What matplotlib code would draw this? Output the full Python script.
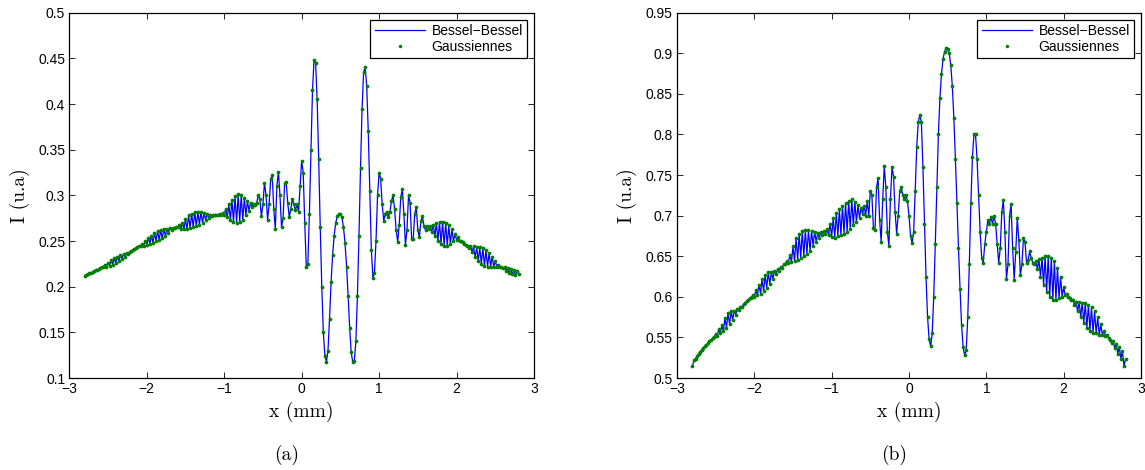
#!/usr/bin/env python3
"""Two panels of intensity profiles I(x): Bessel-Bessel (line) vs the
Gaussian decomposition (dots), cases (a) and (b). Saves out.png."""

import numpy as np
import matplotlib

matplotlib.use("Agg")
import matplotlib.pyplot as plt
from matplotlib.ticker import FixedLocator, FuncFormatter

# Sample grid: x from -2.8 mm to 2.8 mm, step 0.02 mm (281 samples).
X_START, X_STOP, N_SAMPLES = -2.8, 2.8, 281

# Panel (a): intensity, one row per 0.2 mm.
I_A = [
    0.212, 0.213, 0.214, 0.215, 0.215, 0.216, 0.217, 0.218, 0.218, 0.219,  # -2.80
    0.220, 0.222, 0.221, 0.224, 0.222, 0.226, 0.223, 0.229, 0.224, 0.231,  # -2.60
    0.226, 0.233, 0.228, 0.235, 0.230, 0.236, 0.233, 0.237, 0.236, 0.238,  # -2.40
    0.239, 0.240, 0.241, 0.242, 0.243, 0.244, 0.244, 0.247, 0.245, 0.250,  # -2.20
    0.246, 0.253, 0.247, 0.256, 0.248, 0.259, 0.250, 0.261, 0.251, 0.262,  # -2.00
    0.253, 0.263, 0.256, 0.263, 0.259, 0.264, 0.262, 0.264, 0.264, 0.265,  # -1.80
    0.265, 0.267, 0.263, 0.270, 0.263, 0.274, 0.263, 0.278, 0.264, 0.280,  # -1.60
    0.265, 0.282, 0.266, 0.282, 0.268, 0.282, 0.270, 0.281, 0.273, 0.280,  # -1.40
    0.275, 0.279, 0.277, 0.279, 0.278, 0.279, 0.278, 0.280, 0.278, 0.281,  # -1.20
    0.279, 0.285, 0.276, 0.290, 0.273, 0.295, 0.271, 0.299, 0.270, 0.301,  # -1.00
    0.271, 0.300, 0.273, 0.297, 0.278, 0.294, 0.283, 0.292, 0.287, 0.291,  # -0.80
    0.289, 0.292, 0.300, 0.296, 0.277, 0.290, 0.314, 0.300, 0.273, 0.290,  # -0.60
    0.318, 0.322, 0.285, 0.263, 0.310, 0.326, 0.300, 0.265, 0.275, 0.313,  # -0.40
    0.315, 0.292, 0.276, 0.285, 0.296, 0.290, 0.284, 0.290, 0.282, 0.310,  # -0.20
    0.338, 0.325, 0.270, 0.222, 0.225, 0.280, 0.350, 0.415, 0.448, 0.445,  # 0.00
    0.405, 0.340, 0.265, 0.200, 0.150, 0.124, 0.118, 0.130, 0.165, 0.205,  # 0.20
    0.235, 0.256, 0.270, 0.277, 0.280, 0.280, 0.276, 0.265, 0.248, 0.222,  # 0.40
    0.190, 0.155, 0.128, 0.117, 0.119, 0.140, 0.190, 0.255, 0.330, 0.395,  # 0.60
    0.435, 0.440, 0.420, 0.370, 0.305, 0.240, 0.210, 0.215, 0.250, 0.300,  # 0.80
    0.325, 0.318, 0.290, 0.272, 0.280, 0.282, 0.276, 0.282, 0.294, 0.300,  # 1.00
    0.285, 0.262, 0.249, 0.268, 0.298, 0.307, 0.280, 0.246, 0.262, 0.300,  # 1.20
    0.292, 0.252, 0.252, 0.280, 0.287, 0.262, 0.254, 0.272, 0.277, 0.266,  # 1.40
    0.262, 0.266, 0.263, 0.266, 0.260, 0.268, 0.255, 0.270, 0.250, 0.271,  # 1.60
    0.247, 0.271, 0.245, 0.270, 0.245, 0.267, 0.247, 0.263, 0.250, 0.258,  # 1.80
    0.251, 0.254, 0.250, 0.250, 0.249, 0.247, 0.246, 0.245, 0.242, 0.245,  # 2.00
    0.238, 0.244, 0.232, 0.243, 0.228, 0.243, 0.225, 0.242, 0.223, 0.240,  # 2.20
    0.222, 0.237, 0.222, 0.233, 0.222, 0.228, 0.222, 0.224, 0.221, 0.222,  # 2.40
    0.220, 0.221, 0.217, 0.220, 0.215, 0.219, 0.214, 0.218, 0.213, 0.217, 0.214,  # 2.60
]

# Panel (b)
I_B = [
    0.515, 0.522, 0.524, 0.527, 0.530, 0.532, 0.535, 0.537, 0.539, 0.541,  # -2.80
    0.543, 0.545, 0.547, 0.549, 0.550, 0.554, 0.552, 0.560, 0.555, 0.565,  # -2.60
    0.558, 0.574, 0.562, 0.580, 0.566, 0.582, 0.572, 0.583, 0.578, 0.585,  # -2.40
    0.584, 0.588, 0.588, 0.591, 0.592, 0.595, 0.596, 0.598, 0.599, 0.602,  # -2.20
    0.600, 0.608, 0.602, 0.615, 0.604, 0.622, 0.607, 0.627, 0.611, 0.630,  # -2.00
    0.616, 0.630, 0.622, 0.632, 0.628, 0.634, 0.632, 0.637, 0.636, 0.640,  # -1.80
    0.640, 0.644, 0.642, 0.652, 0.643, 0.662, 0.644, 0.672, 0.645, 0.678,  # -1.60
    0.648, 0.681, 0.650, 0.682, 0.653, 0.682, 0.657, 0.681, 0.663, 0.680,  # -1.40
    0.668, 0.679, 0.673, 0.680, 0.676, 0.681, 0.678, 0.683, 0.676, 0.690,  # -1.20
    0.674, 0.697, 0.673, 0.703, 0.675, 0.708, 0.676, 0.712, 0.678, 0.715,  # -1.00
    0.680, 0.718, 0.684, 0.720, 0.688, 0.717, 0.692, 0.713, 0.697, 0.710,  # -0.80
    0.702, 0.712, 0.700, 0.718, 0.700, 0.730, 0.725, 0.685, 0.682, 0.735,  # -0.60
    0.746, 0.695, 0.668, 0.720, 0.761, 0.735, 0.680, 0.663, 0.720, 0.760,  # -0.40
    0.748, 0.705, 0.678, 0.700, 0.730, 0.735, 0.725, 0.720, 0.726, 0.718,  # -0.20
    0.700, 0.675, 0.666, 0.680, 0.730, 0.785, 0.815, 0.824, 0.815, 0.760,  # 0.00
    0.690, 0.625, 0.575, 0.548, 0.539, 0.555, 0.600, 0.665, 0.735, 0.800,  # 0.20
    0.845, 0.875, 0.893, 0.902, 0.906, 0.905, 0.900, 0.885, 0.860, 0.820,  # 0.40
    0.770, 0.715, 0.660, 0.610, 0.565, 0.538, 0.528, 0.535, 0.575, 0.640,  # 0.60
    0.715, 0.772, 0.800, 0.800, 0.770, 0.725, 0.680, 0.648, 0.642, 0.665,  # 0.80
    0.680, 0.695, 0.690, 0.698, 0.690, 0.700, 0.690, 0.665, 0.642, 0.660,  # 1.00
    0.705, 0.719, 0.680, 0.622, 0.640, 0.700, 0.714, 0.660, 0.621, 0.655,  # 1.20
    0.697, 0.670, 0.627, 0.640, 0.672, 0.668, 0.642, 0.645, 0.656, 0.648,  # 1.40
    0.642, 0.640, 0.644, 0.634, 0.646, 0.625, 0.648, 0.615, 0.650, 0.606,  # 1.60
    0.650, 0.600, 0.648, 0.596, 0.644, 0.596, 0.636, 0.598, 0.625, 0.600,  # 1.80
    0.612, 0.602, 0.604, 0.600, 0.598, 0.596, 0.596, 0.590, 0.594, 0.582,  # 2.00
    0.594, 0.575, 0.593, 0.568, 0.592, 0.562, 0.590, 0.558, 0.587, 0.556,  # 2.20
    0.582, 0.555, 0.575, 0.553, 0.566, 0.553, 0.558, 0.552, 0.553, 0.549,  # 2.40
    0.547, 0.543, 0.545, 0.537, 0.542, 0.530, 0.538, 0.524, 0.533, 0.515, 0.523,  # 2.60
]

X_TICKS = [-3, -2, -1, 0, 1, 2, 3]
Y_TICKS_A = [0.1, 0.15, 0.2, 0.25, 0.3, 0.35, 0.4, 0.45, 0.5]
Y_TICKS_B = [0.5, 0.55, 0.6, 0.65, 0.7, 0.75, 0.8, 0.85, 0.9, 0.95]
LABELS = ["Bessel\u2212Bessel", "Gaussiennes"]
CAPTIONS = ["(a)", "(b)"]

W, H = 1145, 470
# axes boxes in figure pixels: (left, right), shared top/bottom
AX_X = [(69.3, 534.0), (677.0, 1141.0)]
AX_TOP, AX_BOTTOM = 12.7, 378.0
CAPTION_X = [287, 894]
CAPTION_Y = 455

LINE_COLOR = (0.0, 0.0, 1.0)
DOT_COLOR = (0.0, 0.5, 0.0)
SERIF = ["cmr10", "DejaVu Serif"]

plt.rcParams["font.family"] = ["Liberation Sans", "DejaVu Sans"]
plt.rcParams["axes.unicode_minus"] = True


def _tick_fmt(v, _pos):
    return f"{v:g}".replace("-", "\u2212")


def draw_panel(fig, idx, y_vals, y_ticks):
    left, right = AX_X[idx]
    ax = fig.add_axes([
        left / W, 1 - AX_BOTTOM / H,
        (right - left) / W, (AX_BOTTOM - AX_TOP) / H,
    ])
    x = np.linspace(X_START, X_STOP, N_SAMPLES)
    y = np.asarray(y_vals)
    assert len(y) == N_SAMPLES, len(y)

    ax.plot(x, y, "-", color=LINE_COLOR, lw=0.9, label=LABELS[0])
    ax.plot(x, y, "o", color=DOT_COLOR, ms=2.7, mew=0, ls="none", label=LABELS[1])

    ax.set_xlim(X_TICKS[0], X_TICKS[-1])
    ax.set_ylim(y_ticks[0], y_ticks[-1])
    ax.xaxis.set_major_locator(FixedLocator(X_TICKS))
    ax.yaxis.set_major_locator(FixedLocator(y_ticks))
    ax.xaxis.set_major_formatter(FuncFormatter(_tick_fmt))
    ax.yaxis.set_major_formatter(FuncFormatter(_tick_fmt))
    ax.tick_params(direction="in", top=True, right=True, length=4, width=0.6,
                   labelsize=10, pad=3, colors="black")
    for sp in ax.spines.values():
        sp.set_linewidth(0.9)

    ax.set_xlabel("x (mm)", family=SERIF, fontsize=14, va="center")
    ax.xaxis.set_label_coords(0.5, -0.093)
    ax.set_ylabel("I (u.a)", family=SERIF, fontsize=14, va="center")
    ax.yaxis.set_label_coords(-0.107, 0.5)

    ax_w = right - left
    ax_h = AX_BOTTOM - AX_TOP
    leg = ax.legend(
        loc="upper right", bbox_to_anchor=(1 - 7 / ax_w, 1 - 7 / ax_h),
        borderaxespad=0, fontsize=10, frameon=True, fancybox=False,
        edgecolor="black", framealpha=1, handlelength=3.6, handletextpad=0.5,
        borderpad=0.3, labelspacing=0.15, numpoints=1,
    )
    leg.get_frame().set_linewidth(0.9)
    for h in leg.legend_handles:
        if h.get_marker() == "o":
            h.set_markersize(2.5)

    fig.text(CAPTION_X[idx] / W, 1 - CAPTION_Y / H, CAPTIONS[idx],
             family=SERIF, fontsize=14, ha="center", va="center")
    return ax


def main():
    fig = plt.figure(figsize=(W / 100, H / 100), dpi=100)
    draw_panel(fig, 0, I_A, Y_TICKS_A)
    draw_panel(fig, 1, I_B, Y_TICKS_B)
    fig.savefig("out.png", dpi=100, facecolor="white")
    plt.close(fig)


if __name__ == "__main__":
    main()
